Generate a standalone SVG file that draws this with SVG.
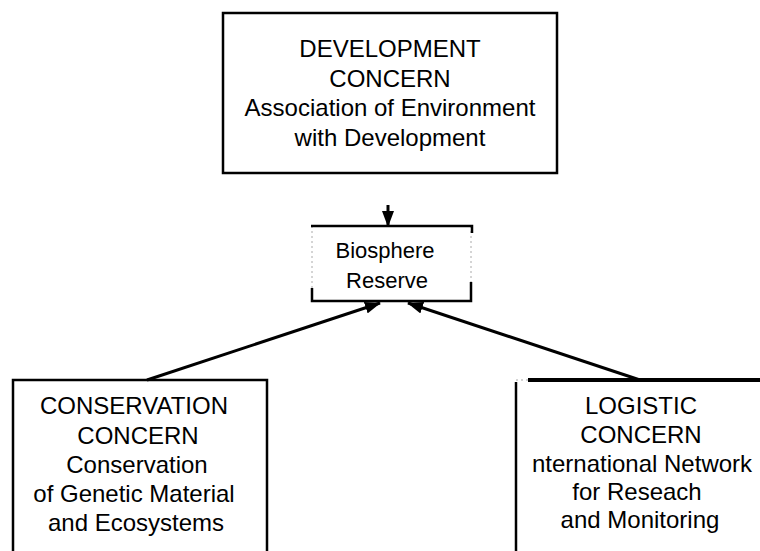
<svg xmlns="http://www.w3.org/2000/svg" width="760" height="551" viewBox="0 0 760 551">
  <style>
    .t { font-family: "Liberation Sans", Arial, sans-serif; fill: #000; text-anchor: middle; }
    .big { font-size: 24px; }
    .mid { font-size: 24px; }
    .bio { font-size: 22px; }
    .edge { fill: none; stroke: #000; stroke-width: 2.5; }
    .thick { fill: none; stroke: #000; stroke-width: 4; }
    .faint { fill: none; stroke: #aaa; stroke-width: 1; stroke-dasharray: 2 3; }
    .conn { fill: none; stroke: #000; stroke-width: 3; marker-end: url(#ah); }
  </style>
  <defs>
    <marker id="ah" viewBox="0 0 16 12" refX="15" refY="6" markerWidth="16" markerHeight="12" markerUnits="userSpaceOnUse" orient="auto">
      <path d="M0,0 L16,6 L0,12 Z" fill="#000"/>
    </marker>
  </defs>
  <rect width="760" height="551" fill="#fff"/>

  <g id="development">
    <rect class="edge" x="223" y="13" width="334" height="160"/>
    <text class="t big" x="390" y="57">DEVELOPMENT</text>
    <text class="t big" x="390" y="86.5">CONCERN</text>
    <text class="t big" x="390" y="116">Association of Environment</text>
    <text class="t big" x="390" y="145.5">with Development</text>
  </g>

  <g id="biosphere">
    <line class="faint" x1="312" y1="226" x2="312" y2="301"/>
    <line class="faint" x1="471" y1="226" x2="471" y2="301"/>
    <path class="edge" d="M311,226 H472 V233"/>
    <path class="edge" d="M312,288 V301 H471 V282"/>
    <text class="t bio" x="385" y="258">Biosphere</text>
    <text class="t bio" x="387" y="288">Reserve</text>
  </g>

  <g id="conservation">
    <path class="edge" d="M13,551 V380 H267 V551"/>
    <text class="t mid" x="134" y="414">CONSERVATION</text>
    <text class="t mid" x="138" y="443.5">CONCERN</text>
    <text class="t mid" x="137" y="473">Conservation</text>
    <text class="t mid" x="134" y="502">of Genetic Material</text>
    <text class="t mid" x="136" y="531">and Ecosystems</text>
  </g>

  <g id="logistic">
    <line class="edge" x1="516" y1="382" x2="516" y2="551"/>
    <line class="faint" x1="516" y1="380" x2="528" y2="380"/>
    <line class="thick" x1="528" y1="380" x2="760" y2="380"/>
    <text class="t mid" x="641" y="414">LOGISTIC</text>
    <text class="t mid" x="641" y="443">CONCERN</text>
    <text class="t mid" x="642" y="472">nternational Network</text>
    <text class="t mid" x="637" y="500">for Reseach</text>
    <text class="t mid" x="640" y="528">and Monitoring</text>
  </g>

  <g id="connectors">
    <line class="conn" x1="388" y1="205" x2="388" y2="226"/>
    <line class="conn" x1="147" y1="380" x2="380" y2="303"/>
    <line class="conn" x1="640" y1="380" x2="408" y2="303"/>
  </g>
</svg>
